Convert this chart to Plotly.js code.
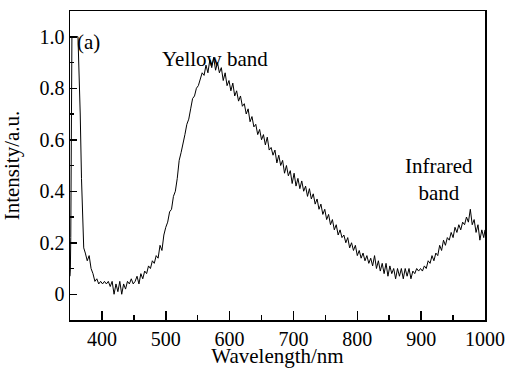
<!DOCTYPE html>
<html>
<head>
<meta charset="utf-8">
<script src="https://cdn.plot.ly/plotly-3.0.1.min.js"></script>
<style>
html,body{margin:0;padding:0;background:#fff;}
#chart{width:505px;height:368px;}
</style>
</head>
<body>
<div id="chart"></div>
<script>
// Wavelength (nm) samples
var wavelength = [
  350, 350.6, 351.2, 351.8, 352.4, 353, 362.5, 364, 366, 368, 369.5, 371.5, 374, 377, 380, 383, 386,
  389, 392, 395, 398, 401, 404, 407, 410, 413, 416, 419, 422, 425, 428, 431, 434, 437, 440,
  443, 446, 449, 452, 455, 458, 461, 464, 467, 470, 473, 476, 479, 482, 485, 488, 491, 494,
  497, 500, 503, 506, 509, 512, 515, 518, 521, 524, 527, 530, 533, 536, 539, 542, 545, 548,
  551, 554, 557, 560, 563, 566, 569, 572, 575, 578, 581, 584, 587, 590, 593, 596, 599, 602,
  605, 608, 611, 614, 617, 620, 623, 626, 629, 632, 635, 638, 641, 644, 647, 650, 653, 656,
  659, 662, 665, 668, 671, 674, 677, 680, 683, 686, 689, 692, 695, 698, 701, 704, 707, 710,
  713, 716, 719, 722, 725, 728, 731, 734, 737, 740, 743, 746, 749, 752, 755, 758, 761, 764,
  767, 770, 773, 776, 779, 782, 785, 788, 791, 794, 797, 800, 803, 806, 809, 812, 815, 818,
  821, 824, 827, 830, 833, 836, 839, 842, 845, 848, 851, 854, 857, 860, 863, 866, 869, 872,
  875, 878, 881, 884, 887, 890, 893, 896, 899, 902, 905, 908, 911, 914, 917, 920, 923, 926,
  929, 932, 935, 938, 941, 944, 947, 950, 953, 956, 959, 962, 965, 968, 971, 974, 977, 980,
  983, 986, 989, 992, 995, 998, 1000
];
// Normalised PL intensity (a.u.)
var intensity = [
  0.07, 0.10, 0.22, 0.50, 0.60, 1.00, 1.00, 0.90, 0.70, 0.45, 0.28, 0.18, 0.16, 0.13, 0.15, 0.10, 0.08,
  0.05, 0.06, 0.04, 0.05, 0.04, 0.05, 0.04, 0.05, 0.03, 0.05, 0.00, 0.04, 0.01, 0.05, 0.00, 0.04, 0.02, 0.05,
  0.04, 0.06, 0.04, 0.05, 0.07, 0.04, 0.08, 0.06, 0.09, 0.08, 0.11, 0.10, 0.13, 0.12, 0.15, 0.14, 0.19, 0.17,
  0.23, 0.26, 0.28, 0.32, 0.33, 0.38, 0.40, 0.45, 0.52, 0.55, 0.58, 0.62, 0.66, 0.68, 0.72, 0.76, 0.77, 0.80,
  0.81, 0.84, 0.86, 0.85, 0.89, 0.86, 0.91, 0.88, 0.92, 0.87, 0.90, 0.86, 0.88, 0.83, 0.86, 0.81, 0.83, 0.79,
  0.82, 0.77, 0.79, 0.75, 0.77, 0.73, 0.74, 0.70, 0.72, 0.67, 0.69, 0.65, 0.66, 0.62, 0.64, 0.60, 0.62, 0.58,
  0.61, 0.56, 0.57, 0.54, 0.56, 0.51, 0.54, 0.50, 0.52, 0.47, 0.50, 0.46, 0.48, 0.43, 0.47, 0.42, 0.45, 0.41,
  0.44, 0.40, 0.42, 0.38, 0.41, 0.37, 0.39, 0.35, 0.37, 0.33, 0.35, 0.31, 0.33, 0.29, 0.31, 0.27, 0.29, 0.25,
  0.27, 0.23, 0.25, 0.22, 0.23, 0.20, 0.22, 0.18, 0.20, 0.17, 0.19, 0.15, 0.17, 0.14, 0.16, 0.13, 0.15, 0.12,
  0.14, 0.11, 0.15, 0.10, 0.13, 0.09, 0.12, 0.08, 0.12, 0.07, 0.11, 0.08, 0.10, 0.06, 0.10, 0.07, 0.10, 0.06,
  0.10, 0.07, 0.10, 0.06, 0.09, 0.08, 0.10, 0.09, 0.10, 0.09, 0.11, 0.10, 0.13, 0.12, 0.15, 0.13, 0.16, 0.15,
  0.19, 0.17, 0.21, 0.19, 0.22, 0.21, 0.24, 0.22, 0.26, 0.24, 0.27, 0.25, 0.28, 0.27, 0.30, 0.28, 0.33, 0.27,
  0.29, 0.24, 0.27, 0.21, 0.25, 0.22, 0.25
];
var xTickVals = [400, 500, 600, 700, 800, 900, 1000];
var yTickVals = [0, 0.2, 0.4, 0.6, 0.8, 1.0];
var yTickText = ["0", "0.2", "0.4", "0.6", "0.8", "1.0"];

var FAMILY = "Times New Roman, Liberation Serif, serif";

var trace = {
  x: wavelength, y: intensity, type: "scatter", mode: "lines",
  line: {color: "#000", width: 1}, hoverinfo: "skip"
};

var layout = {
  width: 505, height: 368,
  margin: {l: 70, r: 20, t: 11, b: 48},
  paper_bgcolor: "#fff", plot_bgcolor: "#fff",
  showlegend: false,
  font: {family: FAMILY, size: 20, color: "#000"},
  xaxis: {
    range: [350, 1000], showgrid: false, zeroline: false,
    showline: true, mirror: true, linecolor: "#000", linewidth: 1.5,
    tickmode: "array", tickvals: xTickVals,
    ticks: "inside", ticklen: 9, tickwidth: 1.5, tickcolor: "#000",
    minor: {dtick: 50, ticks: "inside", ticklen: 5, tickwidth: 1.5, tickcolor: "#000", showgrid: false},
    tickfont: {family: FAMILY, size: 20, color: "#000"},
    title: {text: "Wavelength/nm", font: {family: FAMILY, size: 21, color: "#000"}}
  },
  yaxis: {
    range: [-0.1, 1.1], showgrid: false, zeroline: false,
    showline: true, mirror: true, linecolor: "#000", linewidth: 1.5,
    tickmode: "array", tickvals: yTickVals, ticktext: yTickText,
    ticks: "inside", ticklen: 7, tickwidth: 1.5, tickcolor: "#000",
    minor: {dtick: 0.1, ticks: "inside", ticklen: 4, tickwidth: 1.5, tickcolor: "#000", showgrid: false},
    tickfont: {family: FAMILY, size: 20, color: "#000"},
    title: {text: "Intensity/a.u.", font: {family: FAMILY, size: 21, color: "#000"}}
  },
  annotations: [
    {text: "(a)", xref: "paper", yref: "paper", x: 0.012, y: 0.945, xanchor: "left", showarrow: false, font: {family: FAMILY, size: 21, color: "#000"}},
    {text: "Yellow band", xref: "paper", yref: "paper", x: 0.349, y: 0.89, showarrow: false, font: {family: FAMILY, size: 21, color: "#000"}},
    {text: "Infrared<br>band", xref: "paper", yref: "paper", x: 0.975, y: 0.456, xanchor: "right", showarrow: false, font: {family: FAMILY, size: 21, color: "#000"}}
  ]
};

Plotly.newPlot("chart", [trace], layout, {displayModeBar: false, staticPlot: true});
</script>
</body>
</html>
